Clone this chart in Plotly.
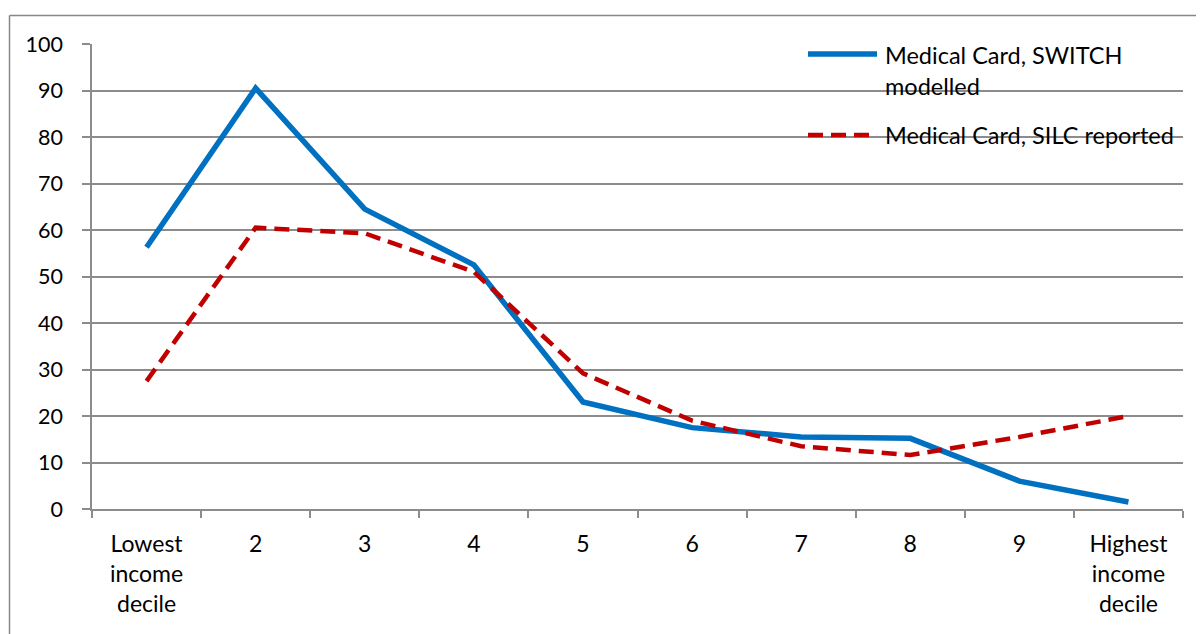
import plotly.graph_objects as go

categories = ["Lowest<br>income<br>decile", "2", "3", "4", "5", "6", "7", "8", "9", "Highest<br>income<br>decile"]
switch_modelled = [56.3, 90.5, 64.5, 52.5, 23.0, 17.5, 15.5, 15.2, 6.0, 1.5]
silc_reported = [27.5, 60.5, 59.3, 51.0, 29.2, 19.0, 13.5, 11.6, 15.5, 20.0]
series_names = ["Medical Card, SWITCH<br>modelled", "Medical Card, SILC reported"]
y_ticks = [0, 10, 20, 30, 40, 50, 60, 70, 80, 90, 100]

BLUE = "#0070C0"
RED = "#C00000"
GRID = "#8C8C8C"
FONT = "Lato"

W, H = 1201, 634
L, R, T, B = 92, 1183, 44, 509

def px(x):
    return (x - L) / (R - L)

def py(y):
    return (B - y) / (B - T)

fig = go.Figure()
fig.add_trace(go.Scatter(x=categories, y=switch_modelled, mode="lines",
                         name=series_names[0],
                         line=dict(color=BLUE, width=5.5), showlegend=False))
fig.add_trace(go.Scatter(x=categories, y=silc_reported, mode="lines",
                         name=series_names[1],
                         line=dict(color=RED, width=4.5, dash="15px,8px"), showlegend=False))

shapes = [
    # outer chart border: top and left edges only (chart is cropped on the other sides)
    dict(type="line", xref="paper", yref="paper", x0=px(9.5), x1=px(1196), y0=py(15.5), y1=py(15.5),
         line=dict(color="#888888", width=1.5), layer="above"),
    dict(type="line", xref="paper", yref="paper", x0=px(9.5), x1=px(9.5), y0=py(15.5), y1=py(634),
         line=dict(color="#888888", width=1.5), layer="above"),
    dict(type="rect", xref="paper", yref="paper", x0=px(794), x1=px(1196), y0=py(205), y1=py(25),
         line=dict(width=0), fillcolor="white", layer="between"),
    dict(type="line", xref="paper", yref="paper", x0=px(808), x1=px(877), y0=py(54), y1=py(54),
         line=dict(color=BLUE, width=5.5), layer="above"),
    dict(type="line", xref="paper", yref="paper", x0=px(808), x1=px(870), y0=py(135), y1=py(135),
         line=dict(color=RED, width=4.5, dash="15px,8px"), layer="above"),
]

annotations = [
    dict(text=series_names[0], xref="paper", yref="paper", x=px(883), y=py(39),
         xanchor="left", yanchor="top", align="left", showarrow=False,
         font=dict(family=FONT, size=23.5, color="black")),
    dict(text=series_names[1], xref="paper", yref="paper", x=px(883), y=py(135),
         xanchor="left", yanchor="middle", align="left", showarrow=False,
         font=dict(family=FONT, size=23.5, color="black")),
]

fig.update_layout(
    width=W, height=H,
    margin=dict(l=L, r=W - R, t=T, b=H - B),
    paper_bgcolor="white", plot_bgcolor="white",
    font=dict(family=FONT, size=21, color="black"),
    shapes=shapes, annotations=annotations,
    xaxis=dict(type="category", tickson="boundaries", ticks="outside", ticklen=7,
               tickcolor=GRID, tickwidth=1.5, showgrid=False, showline=True,
               linecolor=GRID, linewidth=1.5, range=[-0.5, 9.5],
               tickfont=dict(family=FONT, size=23, color="black"),
               ticklabelstandoff=14, zeroline=False),
    yaxis=dict(range=[0, 100], tickvals=y_ticks, ticks="outside", ticklen=8,
               tickcolor=GRID, tickwidth=1.5, showgrid=True, gridcolor=GRID,
               gridwidth=1.5, showline=True, linecolor=GRID, linewidth=1.5,
               tickfont=dict(family=FONT, size=21.5, color="black"),
               zeroline=False, ticklabelstandoff=15),
)

fig.write_html("out.html", config={"displayModeBar": False},
               post_script="document.body.style.margin='0px';document.body.style.padding='0px';document.body.style.overflow='hidden';")
